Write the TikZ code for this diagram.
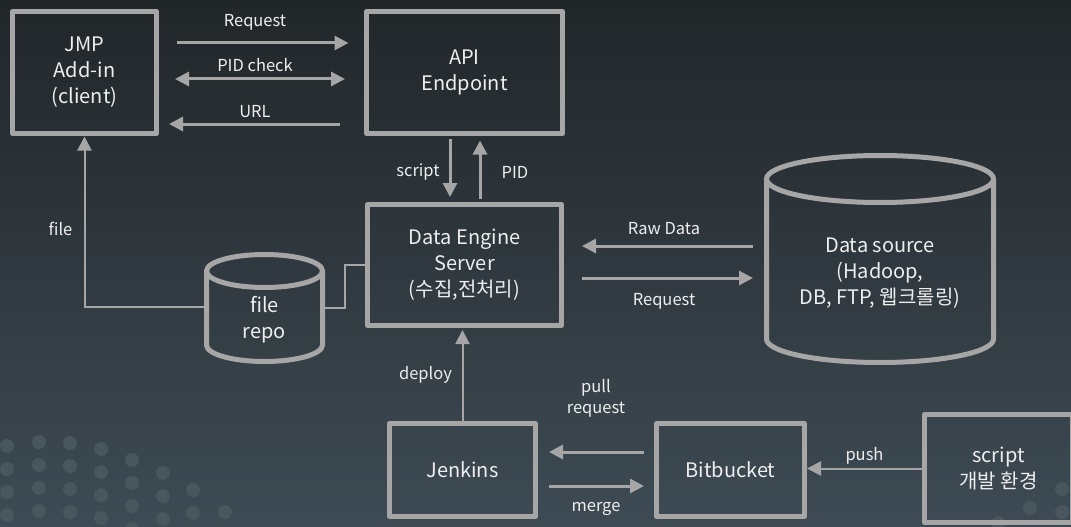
\documentclass[tikz,border=0pt]{standalone}
\usepackage{fontspec}
\setmainfont{Noto Sans CJK KR}
\usetikzlibrary{arrows.meta}

\definecolor{bgtop}{HTML}{212629}
\definecolor{bgbot}{HTML}{3E4B54}
\definecolor{edgegray}{HTML}{A6A6A6}
\definecolor{dotgray}{HTML}{49565E}
\definecolor{txt}{HTML}{EEEEEE}

\tikzset{
  box/.style={draw=edgegray, line width=5pt, line join=round, outer sep=0pt, inner sep=0pt,
    align=center, text=txt, font=\fontsize{20}{26}\selectfont},
  body/.style={outer sep=0pt, inner sep=0pt},
  cyl/.style={draw=edgegray, line width=5pt},
  arr/.style={draw=edgegray, line width=3pt, >={Triangle[length=14pt,width=14pt]}, ->},
  tarr/.style={arr, line width=2pt},
  link/.style={draw=edgegray, line width=2pt},
  lbl/.style={text=txt, font=\fontsize{16.5}{21}\selectfont, align=center},
  cyltext/.style={text=txt, font=\fontsize{20}{26}\selectfont, align=center},
}

\begin{document}
\begin{tikzpicture}[x=1pt, y=-1pt]
  \useasboundingbox (0,0) rectangle (1071,527);
  \shade[top color=bgtop, bottom color=bgbot] (0,0) rectangle (1071,527);

  % dots in the corners
  \foreach \x/\y in {7/446,39/442,70/443,101/449,132/460,163/473,193/490,225/512}
    \foreach \k in {0,...,4}
      \fill[dotgray] (\x,{\y+23*\k}) circle (7pt);
  \foreach \x/\y in {1062/489,1030/508,1062/512,998/523}
    \fill[dotgray] (\x,\y) circle (7pt);

  % boxes
  \node[box, minimum width=144pt, minimum height=122pt] (jmp) at (84.5,72.5) {JMP\\Add-in\\(client)};
  \node[box, minimum width=196pt, minimum height=122pt] (api) at (464.5,72.5) {API\\Endpoint};
  \node[box, minimum width=194pt, minimum height=121pt] (engine) at (464.5,265) {Data Engine\\Server\\(수집,전처리)};
  \node[box, minimum width=146pt, minimum height=93pt] (jenkins) at (462.5,470) {Jenkins};
  \node[box, minimum width=148pt, minimum height=93pt] (bitbucket) at (730.5,470) {Bitbucket};
  \node[box, minimum width=148pt, minimum height=108pt] (dev) at (998.5,468.5) {script\\개발 환경};

  % cylinders
  \node[body, minimum width=116pt, minimum height=74pt] (repo) at (264.5,308) {};
  \draw[cyl] (repo.north west) -- (repo.south west)
    arc[start angle=180, end angle=360, x radius=58pt, y radius=16.5pt] -- (repo.north east);
  \draw[cyl] (repo.north) ellipse [x radius=58pt, y radius=16.5pt];
  \node[cyltext] (repotext) at ([yshift=-12pt]repo.center) {file\\repo};

  \node[body, minimum width=227pt, minimum height=160pt] (src) at (880,259) {};
  \draw[cyl] (src.north west) -- (src.south west)
    arc[start angle=180, end angle=360, x radius=113.5pt, y radius=23.5pt] -- (src.north east);
  \draw[cyl] (src.north) ellipse [x radius=113.5pt, y radius=23.5pt];
  \node[cyltext] (srctext) at ([yshift=-14pt]src.center) {Data source\\(Hadoop,\\DB, FTP, 웹크롤링)};

  % client <-> api
  \draw[arr, shorten <=20pt, shorten >=18pt] ([yshift=29.5pt]jmp.east) --
    node[lbl, yshift=21pt, xshift=-6.5pt] (lrequest) {Request} ([yshift=29.5pt]api.west);
  \draw[arr, <->, shorten <=18.5pt, shorten >=21.5pt] ([yshift=-6.5pt]jmp.east) --
    node[lbl, yshift=14pt, xshift=-6.5pt] (lcheck) {PID check} ([yshift=-6.5pt]api.west);
  \draw[arr, shorten <=26.5pt, shorten >=12.5pt] ([yshift=-51.5pt]api.west) --
    node[lbl, yshift=12pt, xshift=-6.5pt] (lurl) {URL} ([yshift=-51.5pt]jmp.east);

  % api <-> engine
  \draw[arr, shorten <=5pt, shorten >=7.5pt] ([xshift=-14.5pt]api.south) --
    node[lbl, xshift=-32pt, yshift=-3pt] (lscript) {script} ([xshift=-14.5pt]engine.north);
  \draw[arr, shorten <=6pt, shorten >=7pt] ([xshift=15.5pt]engine.north) --
    node[lbl, xshift=35pt, yshift=-3pt] (lpid) {PID} ([xshift=15.5pt]api.south);

  % file repo
  \draw[tarr, shorten >=3pt] ([yshift=1pt]repo.west) -|
    node[lbl, pos=0.75, xshift=-24pt, yshift=-9pt] (lfile) {file} (jmp.south);
  \draw[link] (repo.east) -- ++(22.5,0) |- (engine.west);

  % engine <-> data source
  \draw[arr, shorten <=13.5pt, shorten >=20.5pt] ([yshift=19pt]engine.east -| src.west) --
    node[lbl, yshift=17pt] (lraw) {Raw Data} ([yshift=19pt]engine.east);
  \draw[arr, shorten <=20.5pt, shorten >=13.5pt] ([yshift=-13pt]engine.east) --
    node[lbl, yshift=-23pt] (lsrcreq) {Request} ([yshift=-13pt]engine.east -| src.west);

  % build chain
  \draw[tarr, shorten >=4.5pt] (jenkins.north) --
    node[lbl, xshift=-37pt] (ldeploy) {deploy} (jenkins.north |- engine.south);
  \draw[arr, shorten <=12.5pt, shorten >=13.5pt] ([yshift=18pt]bitbucket.west) --
    node[lbl, yshift=53.5pt] (lpull) {pull\\request} ([yshift=18pt]jenkins.east);
  \draw[arr, shorten <=13.5pt, shorten >=12.5pt] ([yshift=-16pt]jenkins.east) --
    node[lbl, yshift=-23pt] (lmerge) {merge} ([yshift=-16pt]bitbucket.west);
  \draw[tarr, shorten >=2.5pt] (dev.west) --
    node[lbl, yshift=13pt] (lpush) {push} (dev.west -| bitbucket.east);
\end{tikzpicture}
\end{document}
